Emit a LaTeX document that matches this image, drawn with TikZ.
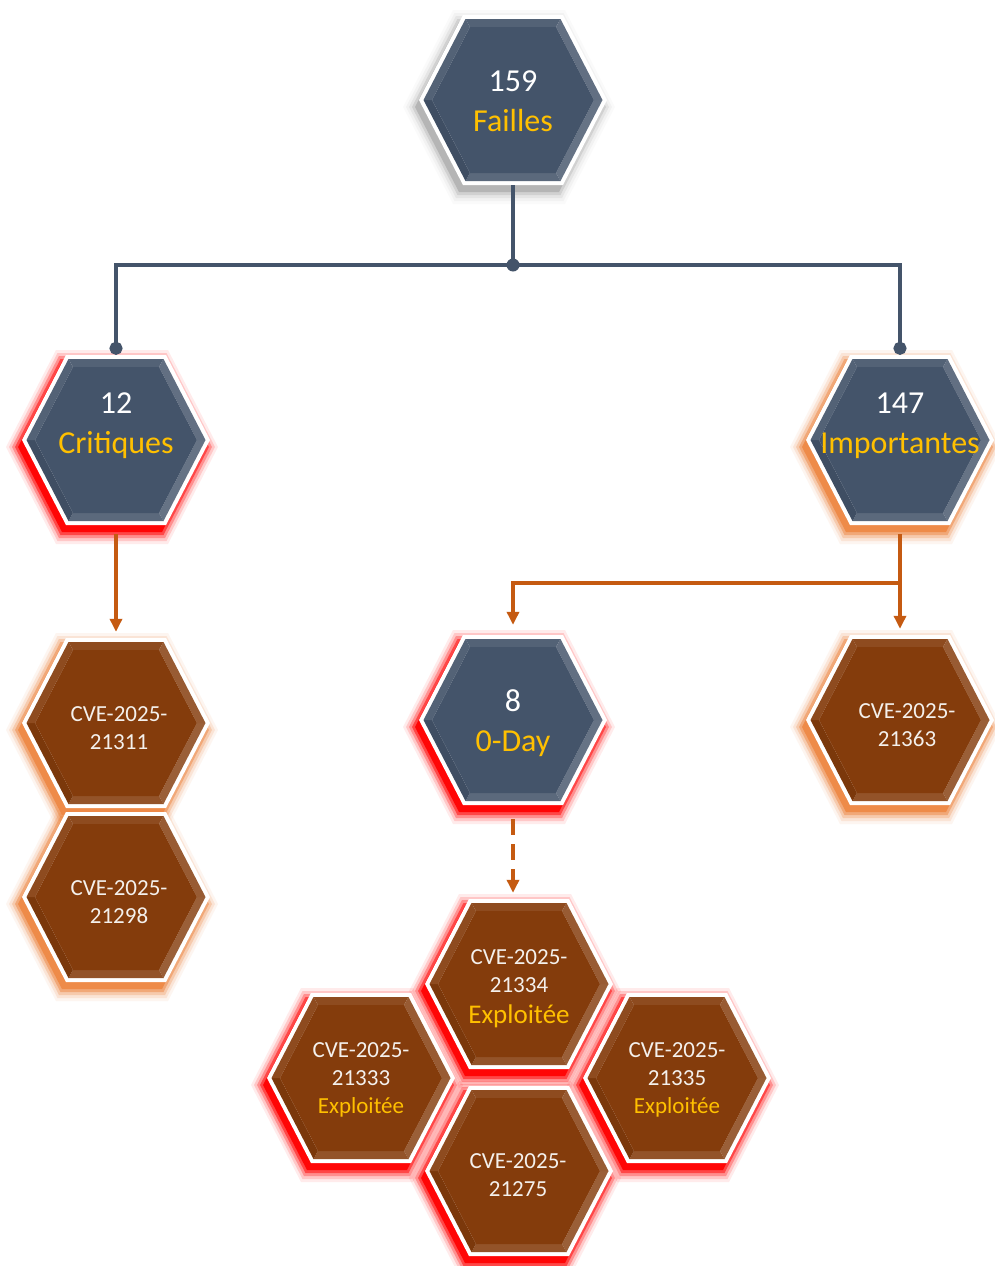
\documentclass[tikz,border=0pt]{standalone}
\usepackage{fontspec}
\setmainfont{Carlito}
\usetikzlibrary{arrows.meta,calc}
\definecolor{slate}{HTML}{44546A}
\definecolor{brn}{HTML}{843C0C}
\definecolor{gold}{HTML}{FFC000}
\definecolor{conor}{HTML}{C55A11}
\definecolor{glowred}{HTML}{FF0000}
\definecolor{gloworg}{HTML}{EE8844}
\definecolor{glowgray}{HTML}{8C8C8C}
\definecolor{cvewhite}{HTML}{F4F0EC}

\newcommand{\hexp}[3]{({#1},0) -- ({#3},{#2}) -- ({-(#3)},{#2}) -- ({-(#1)},0) -- ({-(#3)},{-(#2)}) -- ({#3},{-(#2)}) -- cycle}

% glow / shadow behind a cell: cx, cy, colour, strength
\newcommand{\HexGlow}[4]{%
  \begin{scope}[shift={(#1,#2)}]
    \foreach \d/\o in {12/0.08,9/0.15,6/0.28,3/0.5,0/0.9}
      \fill[#3,opacity=\o*#4,shift={(-4,7)}] \hexp{94+\d}{85+\d}{50+\d*0.5};
  \end{scope}}

% body of a cell: name, cx, cy, fill colour
\newcommand{\HexBody}[4]{%
  \begin{scope}[shift={(#2,#3)}]
    \fill[white] \hexp{94}{85}{50};
    \fill[#4!82!white] (89.5,0) -- (47.5,81) -- (43,73) -- (81,0) -- cycle;
    \fill[#4!88!white] (47.5,81) -- (-47.5,81) -- (-43,73) -- (43,73) -- cycle;
    \fill[#4!93!black] (-47.5,81) -- (-89.5,0) -- (-81,0) -- (-43,73) -- cycle;
    \fill[#4!92!white] (-89.5,0) -- (-47.5,-81) -- (-43,-73) -- (-81,0) -- cycle;
    \fill[#4!92!white] (-47.5,-81) -- (47.5,-81) -- (43,-73) -- (-43,-73) -- cycle;
    \fill[#4!84!white] (47.5,-81) -- (89.5,0) -- (81,0) -- (43,-73) -- cycle;
    \fill[#4] \hexp{81}{73}{43};
  \end{scope}
  \node[hexanchor] (#1) at (#2,#3) {};}

\tikzset{
  hexanchor/.style={minimum width=188pt, minimum height=170pt, inner sep=0pt, draw=none},
  bigtxt/.style={text=white, align=center, inner sep=0pt, font=\fontsize{32}{40}\selectfont},
  cvetxt/.style={text=cvewhite, align=center, inner sep=0pt, font=\fontsize{23}{28}\selectfont},
  darkline/.style={draw=slate, line width=4pt},
  dotnode/.style={circle, fill=slate, minimum size=13pt, inner sep=0pt},
  oline/.style={draw=conor, line width=3.5pt, -{Triangle[length=13pt,width=12pt]}},
}

\begin{document}
\begin{tikzpicture}[x=1pt,y=-1pt]
\fill[white] (0,0) rectangle (994,1266);
\useasboundingbox (0,0) rectangle (994,1266);

% ---------- glows ----------
\HexGlow{513}{100}{glowgray}{0.45}
\HexGlow{116}{440}{glowred}{1}
\HexGlow{900}{440}{gloworg}{1}
\HexGlow{513}{720}{glowred}{1}
\HexGlow{900}{720}{gloworg}{1}
\HexGlow{116}{723}{gloworg}{1}
\HexGlow{116}{897}{gloworg}{1}
\HexGlow{519}{984}{glowred}{1}
\HexGlow{361}{1078}{glowred}{1}
\HexGlow{677}{1078}{glowred}{1}
\HexGlow{519}{1171}{glowred}{1}

% ---------- bodies ----------
\HexBody{fail}{513}{100}{slate}
\HexBody{crit}{116}{440}{slate}
\HexBody{imp}{900}{440}{slate}
\HexBody{zday}{513}{720}{slate}
\HexBody{c363}{900}{720}{brn}
\HexBody{c311}{116}{723}{brn}
\HexBody{c298}{116}{897}{brn}
\HexBody{c334}{519}{984}{brn}
\HexBody{c333}{361}{1078}{brn}
\HexBody{c335}{677}{1078}{brn}
\HexBody{c275}{519}{1171}{brn}

% ---------- labels ----------
\node[bigtxt] (failT) at (513,101) {159\\\textcolor{gold}{Failles}};
\node[bigtxt] (critT) at (116,426) {12\\\textcolor{gold}{Critiques}};
\node[bigtxt] (impT) at (900,426) {147\\\textcolor{gold}{Importantes}};
\node[bigtxt] (zdayT) at (513,723) {8\\\textcolor{gold}{0-Day}};
\node[cvetxt] (c363T) at (907,725) {CVE-2025-\\21363};
\node[cvetxt] (c311T) at (119,728) {CVE-2025-\\21311};
\node[cvetxt] (c298T) at (119,902) {CVE-2025-\\21298};
\node[cvetxt] (c334T) at (519,989) {CVE-2025-\\21334\\[3pt]{\fontsize{27}{32}\selectfont\textcolor{gold}{Exploitée}}};
\node[cvetxt] (c333T) at (361,1080) {CVE-2025-\\21333\\\textcolor{gold}{Exploitée}};
\node[cvetxt] (c335T) at (677,1080) {CVE-2025-\\21335\\\textcolor{gold}{Exploitée}};
\node[cvetxt] (c275T) at (518,1175) {CVE-2025-\\21275};

% ---------- connectors ----------
\node[dotnode] (jn) at (513,265) {};
\draw[darkline] (fail.south) -- (jn.center);
\draw[darkline, -{Circle[length=13pt]}] (jn.center) -| (crit.north);
\draw[darkline, -{Circle[length=13pt]}] (jn.center) -| (imp.north);

\coordinate (br) at (900,583);
\draw[oline, shorten <=9pt, shorten >=6pt] (crit.south) -- (c311.north);
\draw[oline, shorten <=9pt, shorten >=6pt] (imp.south) -- (c363.north);
\draw[oline, shorten >=10pt] (br) -| (zday.north);
\draw[oline, dash pattern=on 16pt off 9pt, shorten <=14pt, shorten >=6pt] (zday.south) -- (zday.south |- c334.north);
\end{tikzpicture}
\end{document}
